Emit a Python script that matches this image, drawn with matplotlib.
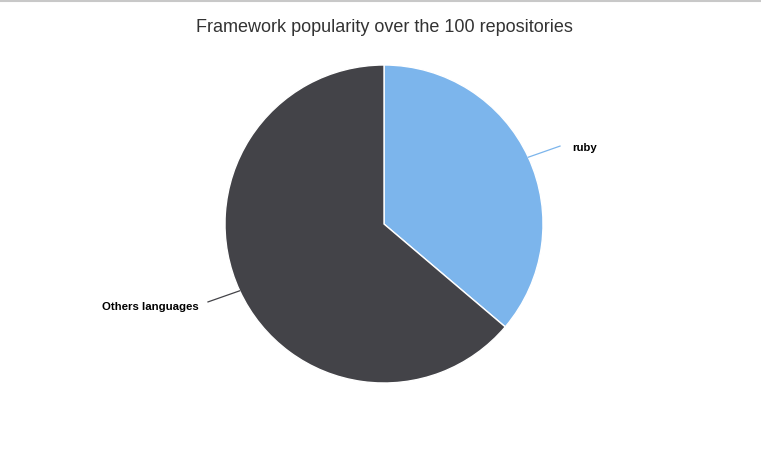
import numpy as np
import matplotlib
matplotlib.use("Agg")
import matplotlib.pyplot as plt
from matplotlib.lines import Line2D

labels = ["ruby", "Others languages"]
values = [36.2, 63.8]
colors = ["#7cb5ec", "#434348"]
title = "Framework popularity over the 100 repositories"

W, H = 761, 463
fig = plt.figure(figsize=(W / 100, H / 100), dpi=100)
plt.rcParams['font.family'] = ['Liberation Sans', 'DejaVu Sans']

cx, cy, r = 384, 224, 159
ax = fig.add_axes([(cx - r) / W, (H - cy - r) / H, 2 * r / W, 2 * r / H])
wedges, _ = ax.pie(values, colors=colors, startangle=90, counterclock=False,
                   radius=1, wedgeprops=dict(edgecolor="white", linewidth=1))
ax.set_xlim(-1, 1)
ax.set_ylim(-1, 1)
ax.set_aspect("auto")
ax.axis("off")

for w, lab in zip(wedges, labels):
    mid = np.deg2rad((w.theta1 + w.theta2) / 2)
    ex, ey = np.cos(mid), np.sin(mid)
    side = 1 if ex >= 0 else -1
    jx, jy = side * 1.107, ey + 0.07 * (1 if ey > 0 else -1)
    ax.add_line(Line2D([ex, (ex + jx) / 2 + side * 0.02, jx],
                       [ey, ey + (jy - ey) * 0.6, jy],
                       color=w.get_facecolor(), lw=0.9, clip_on=False))
    if side > 0:
        tx, ty, ha = jx + 0.075, jy - 0.01, "left"
    else:
        tx, ty, ha = jx - 0.06, jy - 0.034, "right"
    ax.text(tx, ty, lab, ha=ha, va="center", fontsize=8.2, fontweight="bold", color="#000000")

fig.text((385 - 0.5) / W, 1 - 28 / H, title, ha="center", va="center", fontsize=13.0, color="#333333")
fig.add_artist(Line2D([0, 1], [1 - 0.5 / H, 1 - 0.5 / H], transform=fig.transFigure,
                      color="#c8c8c8", lw=1.5))

fig.savefig("out.png", dpi=100, facecolor="white")
